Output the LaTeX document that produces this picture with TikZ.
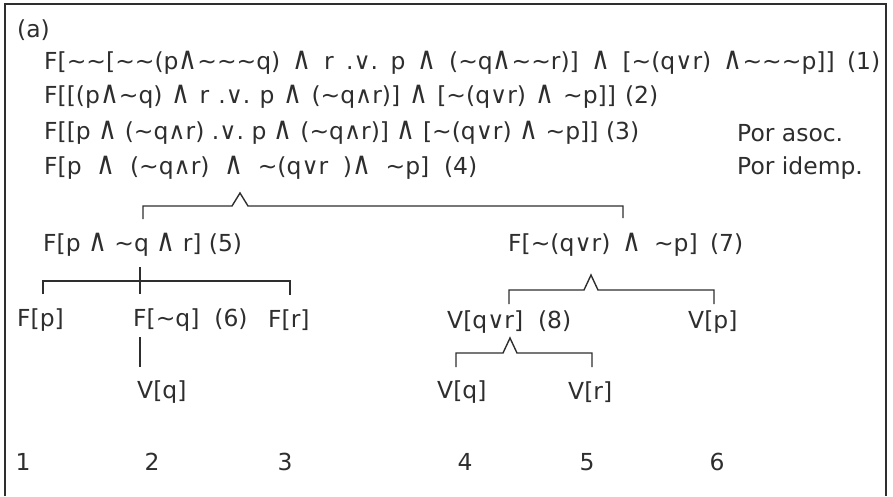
\documentclass[tikz,border=0pt]{standalone}
\usepackage{fontspec}
\setmainfont{DejaVu Sans}
\usepackage{graphicx}
\usepackage{tikz}
\usetikzlibrary{positioning}
\definecolor{ink}{HTML}{2E2E2E}
\frenchspacing
\newcommand{\nt}{\char"7E}
\newcommand{\lconj}{\scalebox{1.1}[1.35]{\char"2227}}
\newcommand{\sconj}{\char"2227}
\newcommand{\ldisj}{\char"2228}
\newcommand{\spread}[2]{\makebox[#1][s]{#2}}
\tikzset{%
    expr/.style={%
        anchor=west, inner sep=0, text=ink, font=\fontsize{20}{24}\selectfont
    },
    num/.style={%
        expr, anchor=center,
    },
    tie/.style={%
        draw=ink, line width=1.2pt, line join=miter
    },
}

\begin{document}
\begin{tikzpicture}[x=0.03cm, y=-0.03cm]
    \useasboundingbox (0,0) rectangle (893,496);
    \draw[ink, line width=1.7pt] (5,496) |- (886,4) -- (886,496);

    \node[expr] (lbl) at (17,30) {(a)};
    \node[expr] (f1) at (44,63) {\spread{25.08cm}{F[\nt\nt[\nt\nt(p\lconj\nt\nt\nt q) \lconj\ r .\ldisj. p \lconj\ (\nt q\lconj\nt\nt r)] \lconj\ [\nt(q\ldisj r) \lconj\nt\nt\nt p]] (1)}};
    \node[expr] (f2) at (44,97) {\spread{18.42cm}{F[[(p\lconj\nt q) \lconj\ r .\ldisj. p \lconj\ (\nt q\sconj r)] \lconj\ [\nt(q\ldisj r) \lconj\ \nt p]] (2)}};
    \node[expr] (f3) at (44,133) {\spread{17.85cm}{F[[p \lconj\ (\nt q\sconj r) .\ldisj. p \lconj\ (\nt q\sconj r)] \lconj\ [\nt(q\ldisj r) \lconj\ \nt p]] (3)}};
    \node[expr] (asoc) at (737,133) {Por asoc.};
    \node[expr] (f4) at (44,168) {\spread{12.99cm}{F[p \lconj\ (\nt q\sconj r) \lconj\ \nt(q\ldisj r )\lconj\ \nt p] (4)}};
    \node[expr] (idem) at (737,168) {Por idemp.};

    \node[expr] (f5) at (43,245) {F[p \lconj\ \nt q \lconj\ r] (5)};
    \node[expr] (f7) at (508,245) {\spread{7.05cm}{F[\nt(q\ldisj r) \lconj\ \nt p] (7)}};

    \node[expr] (fp) at (17,320) {F[p]};
    \node[expr] (f6) at (133,320) {F[\nt q] \ (6)};
    \node[expr] (fr) at (268,320) {F[r]};
    \node[expr] (v8) at (447,322) {V[q\ldisj r] \ (8)};
    \node[expr] (vp) at (688,322) {V[p]};

    \node[expr] (vqa) at (137,392) {V[q]};
    \node[expr] (vqb) at (437,392) {V[q]};
    \node[expr] (vr) at (568,392) {V[r]};

    \foreach \n/\x in {1/23, 2/152, 3/285, 4/465, 5/587, 6/717}
        \node[num] (c\n) at (\x,462) {\n};

    % joints of the tree
    \coordinate (j4) at (240,193);
    \coordinate (d5) at (143,219);
    \coordinate (d7) at (623,218);
    \coordinate (j5) at (140,281);
    \coordinate (u5) at (140,267);
    \coordinate (dp) at (43,294);
    \coordinate (d6) at (140,294);
    \coordinate (dr) at (290,295);
    \coordinate (u6) at (140,337);
    \coordinate (dq) at (140,367);
    \coordinate (j7) at (591,275);
    \coordinate (d8) at (509,304);
    \coordinate (dvp) at (714,304);
    \coordinate (j8) at (510,338);
    \coordinate (dqb) at (456,367);
    \coordinate (dvr) at (592,367);

    \draw[tie] (d5) |- ++(89,-13) -- (j4) -- ++(8,13) -| (d7);
    \draw[tie] (dp) |- (j5) -| (dr);
    \draw[tie] (u5) -- (d6);
    \draw[tie] (u6) -- (dq);
    \draw[tie] (d8) |- ++(75,-14) -- (j7) -- ++(7,15) -| (dvp);
    \draw[tie] (dqb) |- ++(47,-14) -- (j8) -- ++(7,15) -| (dvr);
\end{tikzpicture}
\end{document}
